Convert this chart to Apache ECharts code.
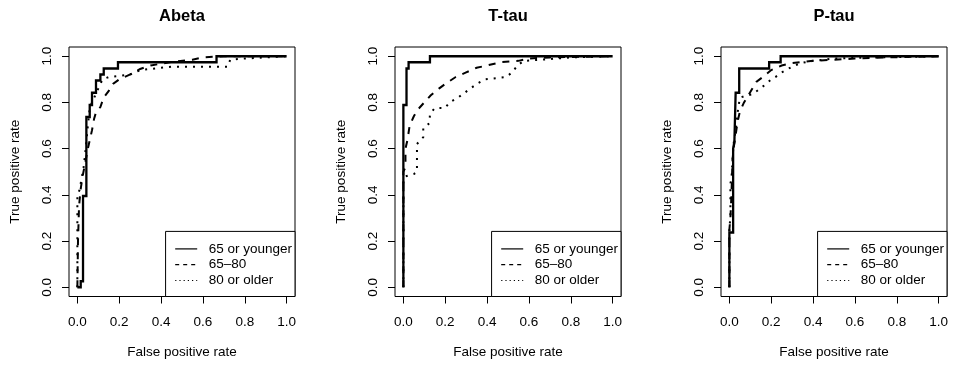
<!DOCTYPE html>
<html>
<head>
<meta charset="utf-8">
<script src="https://cdn.jsdelivr.net/npm/echarts@6/dist/echarts.min.js"></script>
<style>
  html, body { margin: 0; background: #fff; }
  #chart { width: 955px; height: 366px; }
</style>
</head>
<body>
<div id="chart"></div>
<script>
// ROC curves (false positive rate / true positive rate)
const groupNames = ['65 or younger', '65\u201380', '80 or older'];
const panelTitles = ['Abeta', 'T-tau', 'P-tau'];
const tickValues = [0, 0.2, 0.4, 0.6, 0.8, 1];

const abetaYoungFpr = [0, 0.016, 0.016, 0.027, 0.027, 0.043, 0.043, 0.059, 0.059, 0.07, 0.07, 0.089, 0.089, 0.11, 0.11, 0.126, 0.126, 0.194, 0.194, 0.665, 0.665, 1];
const abetaYoungTpr = [0, 0, 0.026, 0.026, 0.395, 0.395, 0.737, 0.737, 0.789, 0.789, 0.842, 0.842, 0.895, 0.895, 0.921, 0.921, 0.947, 0.947, 0.974, 0.974, 1, 1];
const abetaMidFpr = [0, 0.003, 0.008, 0.015, 0.025, 0.04, 0.05, 0.06, 0.07, 0.08, 0.09, 0.11, 0.125, 0.15, 0.17, 0.2, 0.25, 0.3, 0.35, 0.45, 0.55, 0.6, 0.7, 1];
const abetaMidTpr = [0, 0.2, 0.35, 0.42, 0.48, 0.55, 0.6, 0.64, 0.68, 0.73, 0.76, 0.78, 0.82, 0.85, 0.88, 0.9, 0.92, 0.945, 0.96, 0.975, 0.985, 0.995, 1, 1];
const abetaOldFpr = [0, 0, 0.01, 0.02, 0.03, 0.04, 0.05, 0.06, 0.08, 0.1, 0.12, 0.15, 0.25, 0.3, 0.45, 0.72, 0.73, 0.8, 1];
const abetaOldTpr = [0, 0.4, 0.42, 0.47, 0.52, 0.6, 0.7, 0.78, 0.82, 0.86, 0.9, 0.91, 0.92, 0.94, 0.955, 0.955, 0.985, 0.99, 1];

const ttauYoungFpr = [0, 0, 0.015, 0.015, 0.025, 0.025, 0.127, 0.127, 1];
const ttauYoungTpr = [0, 0.789, 0.789, 0.947, 0.947, 0.974, 0.974, 1, 1];
const ttauMidFpr = [0, 0, 0.01, 0.01, 0.02, 0.03, 0.05, 0.07, 0.1, 0.13, 0.17, 0.2, 0.25, 0.3, 0.35, 0.4, 0.47, 0.55, 0.6, 0.7, 1];
const ttauMidTpr = [0, 0.5, 0.52, 0.6, 0.64, 0.7, 0.74, 0.77, 0.8, 0.83, 0.86, 0.88, 0.91, 0.93, 0.95, 0.96, 0.975, 0.98, 0.99, 0.995, 1];
const ttauOldFpr = [0, 0, 0.01, 0.05, 0.065, 0.065, 0.095, 0.095, 0.125, 0.127, 0.15, 0.2, 0.22, 0.26, 0.29, 0.32, 0.35, 0.39, 0.49, 0.52, 0.545, 0.575, 0.66, 0.8, 1];
const ttauOldTpr = [0, 0.47, 0.48, 0.49, 0.5, 0.62, 0.65, 0.69, 0.71, 0.75, 0.776, 0.776, 0.8, 0.82, 0.84, 0.86, 0.88, 0.9, 0.91, 0.93, 0.96, 0.98, 0.985, 0.995, 1];

const ptauYoungFpr = [0, 0, 0.018, 0.018, 0.024, 0.03, 0.03, 0.047, 0.047, 0.19, 0.19, 0.245, 0.245, 1];
const ptauYoungTpr = [0, 0.237, 0.237, 0.6, 0.63, 0.63, 0.842, 0.842, 0.947, 0.947, 0.974, 0.974, 1, 1];
const ptauMidFpr = [0, 0, 0.005, 0.01, 0.015, 0.02, 0.03, 0.04, 0.05, 0.07, 0.09, 0.11, 0.13, 0.16, 0.2, 0.25, 0.3, 0.4, 0.5, 0.6, 0.75, 1];
const ptauMidTpr = [0, 0.25, 0.3, 0.4, 0.55, 0.6, 0.66, 0.72, 0.76, 0.8, 0.83, 0.86, 0.89, 0.91, 0.94, 0.96, 0.97, 0.98, 0.985, 0.99, 0.995, 1];
const ptauOldFpr = [0, 0, 0.005, 0.005, 0.01, 0.015, 0.02, 0.03, 0.04, 0.05, 0.08, 0.11, 0.14, 0.17, 0.2, 0.22, 0.25, 0.3, 0.34, 0.4, 0.5, 0.7, 1];
const ptauOldTpr = [0, 0.26, 0.3, 0.45, 0.47, 0.55, 0.62, 0.68, 0.76, 0.82, 0.83, 0.835, 0.855, 0.876, 0.9, 0.91, 0.93, 0.955, 0.97, 0.98, 0.99, 0.995, 1];

const panelCurves = [
  [[abetaYoungFpr, abetaYoungTpr], [abetaMidFpr, abetaMidTpr], [abetaOldFpr, abetaOldTpr]],
  [[ttauYoungFpr, ttauYoungTpr], [ttauMidFpr, ttauMidTpr], [ttauOldFpr, ttauOldTpr]],
  [[ptauYoungFpr, ptauYoungTpr], [ptauMidFpr, ptauMidTpr], [ptauOldFpr, ptauOldTpr]],
];

const FONT = '"Liberation Sans", Arial, Helvetica, sans-serif';
const boxLefts = [69, 395, 721];
const boxTop = 47;
const boxWidth = 226;
const boxHeight = 249.5;
const chartW = 955;
const chartH = 366;

const curveStyles = [
  { type: 'solid', width: 2.3 },
  { type: [7, 7], width: 2 },
  { type: [2, 6], width: 2 },
];
const legendStyles = [
  { type: 'solid', width: 1.2 },
  { type: [4, 4], width: 1.2 },
  { type: [1.2, 3], width: 1.2 },
];

const fmt = v => v.toFixed(1);

const grid = [], xAxis = [], yAxis = [], title = [], legend = [], series = [];

boxLefts.forEach((left, i) => {
  grid.push({
    left, top: boxTop, width: boxWidth, height: boxHeight,
    show: true, borderColor: '#000', borderWidth: 1, backgroundColor: 'transparent',
  });
  const axisCommon = {
    gridIndex: i, type: 'value', min: -0.04, max: 1.04,
    splitLine: { show: false },
    axisLine: { show: false, onZero: false },
    axisTick: { show: true, inside: false, customValues: tickValues, length: 7, lineStyle: { color: '#000', width: 1 } },
    nameLocation: 'middle',
    nameTextStyle: { fontFamily: FONT, fontSize: 13.5, color: '#000' },
  };
  xAxis.push(Object.assign({}, axisCommon, {
    position: 'bottom',
    name: 'False positive rate', nameGap: 49,
    axisLabel: { customValues: tickValues, formatter: fmt, margin: 19, fontFamily: FONT, fontSize: 13.5, color: '#000' },
  }));
  yAxis.push(Object.assign({}, axisCommon, {
    position: 'left',
    name: 'True positive rate', nameGap: 47,
    axisLabel: { customValues: tickValues, formatter: fmt, rotate: 90, margin: 15, fontFamily: FONT, fontSize: 13.5, color: '#000' },
  }));
  title.push({
    text: panelTitles[i], left: left + boxWidth / 2, top: 8, textAlign: 'center', padding: 0,
    textStyle: { fontFamily: FONT, fontSize: 16.5, fontWeight: 'bold', color: '#000' },
  });
  legend.push({
    orient: 'vertical',
    right: chartW - (left + boxWidth),
    bottom: chartH - (boxTop + boxHeight),
    padding: [10.5, 3, 9, 9],
    itemWidth: 22, itemHeight: 14, itemGap: 1.8,
    icon: 'inherit',
    borderColor: '#000', borderWidth: 1, borderRadius: 0, backgroundColor: '#fff',
    selectedMode: false,
    textStyle: { fontFamily: FONT, fontSize: 13.5, color: '#000', lineHeight: 14, padding: [0, 0, 0, 6.5] },
    data: groupNames.map((name, g) => ({
      name,
      itemStyle: { opacity: 0 },
      lineStyle: Object.assign({ color: '#000' }, legendStyles[g]),
    })),
  });
  panelCurves[i].forEach(([fpr, tpr], g) => {
    series.push({
      name: groupNames[g], type: 'line', xAxisIndex: i, yAxisIndex: i,
      data: fpr.map((x, k) => [x, tpr[k]]),
      symbol: 'none', clip: false,
      lineStyle: Object.assign({ color: '#000', cap: 'butt', join: 'miter' }, curveStyles[g]),
      itemStyle: { color: '#000' },
      z: 3 - g,
    });
  });
});

const chart = echarts.init(document.getElementById('chart'), null, { renderer: 'canvas' });
chart.setOption({
  animation: false,
  backgroundColor: '#fff',
  grid, xAxis, yAxis, title, legend, series,
});
</script>
</body>
</html>
